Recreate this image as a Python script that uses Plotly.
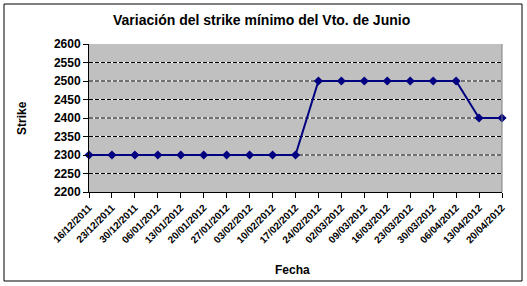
import plotly.graph_objects as go

fechas = ["16/12/2011", "23/12/2011", "30/12/2011", "06/01/2012", "13/01/2012",
          "20/01/2012", "27/01/2012", "03/02/2012", "10/02/2012", "17/02/2012",
          "24/02/2012", "02/03/2012", "09/03/2012", "16/03/2012", "23/03/2012",
          "30/03/2012", "06/04/2012", "13/04/2012", "20/04/2012"]
strike = [2300, 2300, 2300, 2300, 2300, 2300, 2300, 2300, 2300, 2300,
          2500, 2500, 2500, 2500, 2500, 2500, 2500, 2400, 2400]
y_ticks = [2200, 2250, 2300, 2350, 2400, 2450, 2500, 2550, 2600]

W, H = 527, 286
L, R, T, B = 89, 25, 44, 94
pw, ph = W - L - R, H - T - B

font = "Liberation Sans, Arial, sans-serif"

fig = go.Figure()
fig.add_trace(go.Scatter(
    x=fechas, y=strike, mode="lines+markers",
    line=dict(color="#000080", width=2),
    marker=dict(symbol="diamond", size=7, color="#000080"),
    cliponaxis=False,
))

shapes = [
    dict(type="rect", xref="paper", yref="paper",
         x0=(4 - L) / pw, x1=(522 - L) / pw,
         y0=(H - 281 - B) / ph, y1=(H - 4 - B) / ph,
         line=dict(color="black", width=1), layer="below"),
    dict(type="line", xref="paper", yref="paper",
         x0=1, x1=1, y0=0, y1=1,
         line=dict(color="#808080", width=1), layer="above"),
]
for v in y_ticks[1:-1]:
    shapes.append(dict(type="line", xref="paper", yref="y", x0=0, x1=1, y0=v, y1=v,
                       line=dict(color="white", width=1), layer="below"))
    shapes.append(dict(type="line", xref="paper", yref="y", x0=0, x1=1, y0=v, y1=v,
                       line=dict(color="black", width=1, dash="4px,2px"), layer="below"))

fig.update_layout(
    width=W, height=H,
    margin=dict(l=L, r=R, t=T, b=B),
    paper_bgcolor="white", plot_bgcolor="#C0C0C0",
    showlegend=False,
    font=dict(family=font, color="black"),
    xaxis=dict(
        type="category", range=[0, len(fechas) - 1],
        tickangle=-45, tickfont=dict(size=10, family=font, weight="bold"),
        ticks="outside", ticklen=5, tickcolor="black",
        showline=True, linecolor="black", linewidth=1,
        showgrid=False, zeroline=False,
    ),
    yaxis=dict(
        range=[2200, 2600], tickvals=y_ticks,
        tickfont=dict(size=12, family=font, weight="bold"),
        ticks="outside", ticklen=5, tickcolor="black",
        showline=True, linecolor="black", linewidth=1,
        showgrid=False, zeroline=False,
    ),
    annotations=[
        dict(text="<b>Variación del strike mínimo del Vto. de Junio</b>",
             xref="paper", yref="paper", x=(261 - L) / pw, y=(H - 20 - B) / ph,
             xanchor="center", yanchor="middle", showarrow=False,
             font=dict(size=14, family=font)),
        dict(text="<b>Strike</b>", textangle=-90,
             xref="paper", yref="paper", x=(22 - L) / pw, y=(H - 118 - B) / ph,
             xanchor="center", yanchor="middle", showarrow=False,
             font=dict(size=12, family=font)),
        dict(text="<b>Fecha</b>",
             xref="paper", yref="paper", x=(292 - L) / pw, y=(H - 270 - B) / ph,
             xanchor="center", yanchor="middle", showarrow=False,
             font=dict(size=12, family=font)),
    ],
    shapes=shapes,
)

fig.write_html("out.html")
